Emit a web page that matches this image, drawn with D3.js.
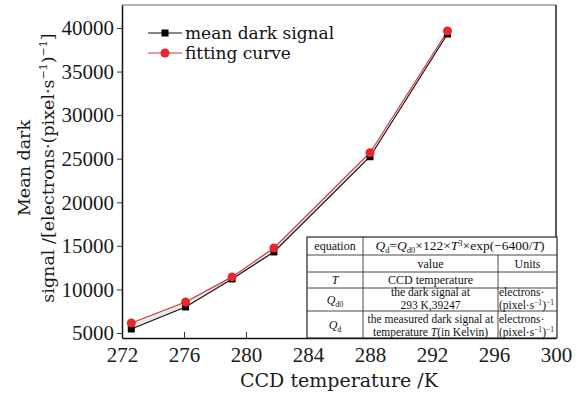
<!DOCTYPE html>
<html>
<head>
<meta charset="utf-8">
<script src="https://cdn.jsdelivr.net/npm/d3@7"></script>
<style>
  body { margin: 0; background: #fff; }
  svg { display: block; }
</style>
</head>
<body>
<svg id="chart" width="580" height="393"></svg>
<script>
// values
const temps = [272.6, 276.1, 279.1, 281.8, 288.0, 293.0];
const meanDark = [5460, 7990, 11200, 14300, 25230, 39310];
const fitting = [6150, 8560, 11440, 14750, 25690, 39656];
const xTicks = [272, 276, 280, 284, 288, 292, 296, 300];
const yTicks = [5000, 10000, 15000, 20000, 25000, 30000, 35000, 40000];
const seriesNames = ['mean dark signal', 'fitting curve'];

const svg = d3.select('#chart');
const pLeft = 122, pRight = 556, pTop = 5, pBottom = 338;
const serif = '"DejaVu Serif", serif';
const times = '"Liberation Serif", serif';

const x = d3.scaleLinear().domain([272, 300]).range([pLeft, pRight]);
const y = d3.scaleLinear().domain([4426, 42640]).range([pBottom, pTop]);

const pts = temps.map((t, i) => ({ t, m: meanDark[i], f: fitting[i] }));

// faint band between the two curves
svg.append('path')
  .datum(pts)
  .attr('fill', '#e6eaea')
  .attr('d', d3.area().x(d => x(d.t)).y0(d => y(d.m)).y1(d => y(d.f)));

// frame: top and right
svg.append('line').attr('x1', pLeft).attr('x2', pRight).attr('y1', pTop).attr('y2', pTop)
  .attr('stroke', '#999').attr('stroke-width', 1.5);
svg.append('line').attr('x1', pRight).attr('x2', pRight).attr('y1', pTop).attr('y2', pBottom)
  .attr('stroke', '#222').attr('stroke-width', 1.5);

// x axis, ticks pointing inwards
const xAxis = svg.append('g')
  .attr('transform', `translate(0,${pBottom})`)
  .attr('font-family', times)
  .call(d3.axisBottom(x).tickValues(xTicks).tickFormat(d3.format('d')).tickSizeInner(-6).tickSizeOuter(0).tickPadding(12));
xAxis.select('.domain').attr('stroke', '#111').attr('stroke-width', 1.5);
xAxis.selectAll('.tick line').attr('stroke', '#333');
xAxis.selectAll('text').attr('font-family', times).attr('font-size', 21).attr('fill', '#1a1a1a')
  .attr('dy', '0.71em').attr('y', 9);

// y axis
const yAxis = svg.append('g')
  .attr('transform', `translate(${pLeft},0)`)
  .attr('font-family', times)
  .call(d3.axisLeft(y).tickValues(yTicks).tickFormat(d3.format('d')).tickSizeInner(5).tickSizeOuter(0).tickPadding(3));
yAxis.select('.domain').attr('stroke', '#111').attr('stroke-width', 1.5);
yAxis.selectAll('.tick line').attr('stroke', '#333');
yAxis.selectAll('text').attr('font-family', times).attr('font-size', 21).attr('fill', '#1a1a1a');

// axis titles
svg.append('text')
  .attr('x', (pLeft + pRight) / 2).attr('y', 387)
  .attr('text-anchor', 'middle')
  .attr('font-family', serif).attr('font-size', 19).attr('fill', '#1a1a1a')
  .text('CCD temperature /K');

const yt = svg.append('g').attr('transform', 'translate(0,168) rotate(-90)')
  .attr('font-family', serif).attr('font-size', 17.5).attr('fill', '#1a1a1a')
  .attr('text-anchor', 'middle');
yt.append('text').attr('x', 0).attr('y', 30).text('Mean dark');
const l2 = yt.append('text').attr('x', 0).attr('y', 54);
l2.append('tspan').text('signal /[electrons·(pixel·s');
l2.append('tspan').attr('dy', -7).attr('font-size', 11).text('−1');
l2.append('tspan').attr('dy', 7).text(')');
l2.append('tspan').attr('dy', -7).attr('font-size', 11).text('−1');
l2.append('tspan').attr('dy', 7).text(']');

// series lines and markers
const line = key => d3.line().x(d => x(d.t)).y(d => y(d[key]));
svg.append('path').datum(pts).attr('fill', 'none').attr('stroke', '#111').attr('stroke-width', 1.2).attr('d', line('m'));
svg.append('path').datum(pts).attr('fill', 'none').attr('stroke', '#d9333a').attr('stroke-width', 1.2).attr('d', line('f'));

svg.selectAll('rect.sq').data(pts).enter().append('rect')
  .attr('class', 'sq')
  .attr('x', d => x(d.t) - 3.5).attr('y', d => y(d.m) - 3.5)
  .attr('width', 7).attr('height', 7).attr('fill', '#000');
svg.selectAll('circle.ci').data(pts).enter().append('circle')
  .attr('class', 'ci')
  .attr('cx', d => x(d.t)).attr('cy', d => y(d.f)).attr('r', 4.5)
  .attr('fill', '#e8262d');

// legend
const legend = svg.append('g');
seriesNames.forEach((name, i) => {
  const ly = 33 + i * 20;
  const col = i === 0 ? '#111' : '#d9333a';
  legend.append('line').attr('x1', 148).attr('x2', 182).attr('y1', ly).attr('y2', ly)
    .attr('stroke', col).attr('stroke-width', 1.2);
  if (i === 0) {
    legend.append('rect').attr('x', 165 - 3.5).attr('y', ly - 3.5).attr('width', 7).attr('height', 7).attr('fill', '#000');
  } else {
    legend.append('circle').attr('cx', 165).attr('cy', ly).attr('r', 4.5).attr('fill', '#e8262d');
  }
  legend.append('text').attr('x', 185).attr('y', ly + 5.5)
    .attr('font-family', serif).attr('font-size', 17).attr('fill', '#111')
    .text(name);
});

// parameter table
const tblCols = [307, 363, 498, 557];
const tblRows = [237, 255, 272, 288, 311, 338];
const tbl = svg.append('g').attr('font-family', times).attr('font-size', 12).attr('fill', '#111');
tbl.append('rect').attr('x', tblCols[0]).attr('y', tblRows[0])
  .attr('width', tblCols[3] - tblCols[0]).attr('height', tblRows[5] - tblRows[0])
  .attr('fill', '#fff').attr('stroke', '#222').attr('stroke-width', 1.2);
tblRows.slice(1, 5).forEach(r => {
  tbl.append('line').attr('x1', tblCols[0]).attr('x2', tblCols[3]).attr('y1', r).attr('y2', r)
    .attr('stroke', '#333').attr('stroke-width', 0.9);
});
tbl.append('line').attr('x1', tblCols[1]).attr('x2', tblCols[1]).attr('y1', tblRows[0]).attr('y2', tblRows[5])
  .attr('stroke', '#333').attr('stroke-width', 0.9);
tbl.append('line').attr('x1', tblCols[2]).attr('x2', tblCols[2]).attr('y1', tblRows[1]).attr('y2', tblRows[5])
  .attr('stroke', '#333').attr('stroke-width', 0.9);

const cx = i => (tblCols[i] + tblCols[i + 1]) / 2;
const cy = i => (tblRows[i] + tblRows[i + 1]) / 2;
const cell = (xx, yy, anchor) => tbl.append('text').attr('x', xx).attr('y', yy).attr('text-anchor', anchor || 'middle');

// row 1: equation
cell(cx(0), cy(0) + 4).text('equation');
const eq = cell((tblCols[1] + tblCols[3]) / 2, cy(0) + 4).attr('font-size', 13.5);
eq.append('tspan').attr('font-style', 'italic').text('Q');
eq.append('tspan').attr('dy', 3).attr('font-size', 8.5).text('d');
eq.append('tspan').attr('dy', -3).text('=');
eq.append('tspan').attr('font-style', 'italic').text('Q');
eq.append('tspan').attr('dy', 3).attr('font-size', 8.5).text('d0');
eq.append('tspan').attr('dy', -3).text('×122×');
eq.append('tspan').attr('font-style', 'italic').text('T');
eq.append('tspan').attr('dy', -4).attr('font-size', 8.5).text('3');
eq.append('tspan').attr('dy', 4).text('×exp(−6400/');
eq.append('tspan').attr('font-style', 'italic').text('T');
eq.append('tspan').text(')');

// row 2: headers
cell(cx(1), cy(1) + 4).text('value');
cell(cx(2), cy(1) + 4).text('Units');

// row 3: T
cell(cx(0), cy(2) + 4).attr('font-style', 'italic').text('T');
cell(cx(1), cy(2) + 4).text('CCD temperature');

// symbols with subscripts
const sym = (row, sub) => {
  const t = cell(cx(0), cy(row) + 4);
  t.append('tspan').attr('font-style', 'italic').text('Q');
  t.append('tspan').attr('dy', 3).attr('font-size', 8).text(sub);
};
sym(3, 'd0');
sym(4, 'd');

// two-line cells: baselines given per row
const lines2 = { 3: [296, 309], 4: [323, 336] };
const unit = row => {
  cell(tblCols[2] + 1, lines2[row][0], 'start').attr('font-size', 11.5).text('electrons·');
  const u = cell(tblCols[2] + 1, lines2[row][1], 'start').attr('font-size', 11.5);
  u.append('tspan').text('(pixel·s');
  u.append('tspan').attr('dy', -4).attr('font-size', 7.5).text('−1');
  u.append('tspan').attr('dy', 4).text(')');
  u.append('tspan').attr('dy', -4).attr('font-size', 7.5).text('−1');
};

cell(cx(1), lines2[3][0]).attr('font-size', 11.5).text('the dark signal at');
cell(cx(1), lines2[3][1]).attr('font-size', 11.5).text('293 K,39247');
unit(3);

cell(cx(1), lines2[4][0]).attr('font-size', 11.5).text('the measured dark signal at');
const tl = cell(cx(1), lines2[4][1]).attr('font-size', 11.5);
tl.append('tspan').text('temperature ');
tl.append('tspan').attr('font-style', 'italic').text('T');
tl.append('tspan').text('(in Kelvin)');
unit(4);
</script>
</body>
</html>
